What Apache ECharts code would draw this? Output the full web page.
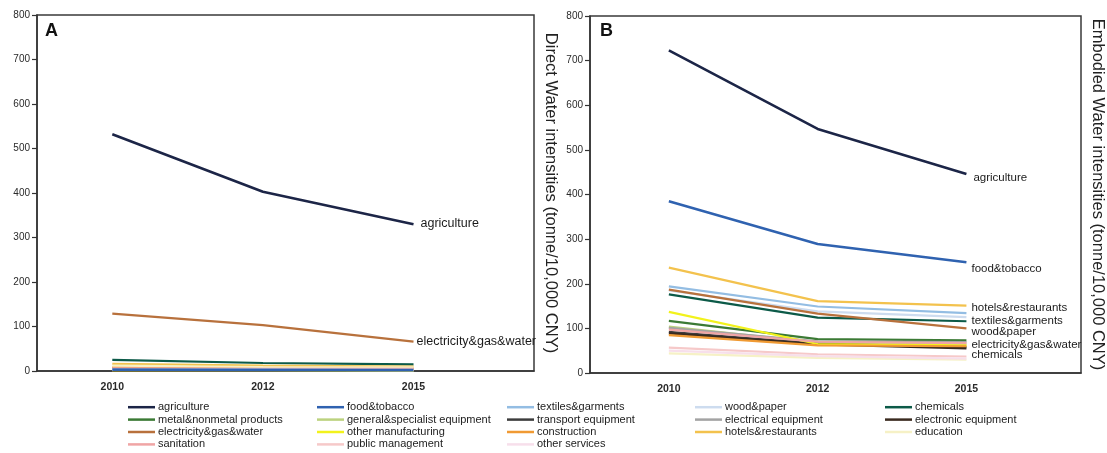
<!DOCTYPE html>
<html>
<head>
<meta charset="utf-8">
<script src="https://cdn.jsdelivr.net/npm/echarts@6/dist/echarts.min.js"></script>
<style>
  html, body { margin: 0; padding: 0; background: #ffffff; }
  #chart { width: 1107px; height: 453px; }
</style>
</head>
<body>
<div id="chart"></div>
<script>
// Survey years on the x axis
const years = ['2010', '2012', '2015'];

// Sectors, in legend order (row by row)
const sectors = [
  'agriculture', 'food&tobacco', 'textiles&garments', 'wood&paper', 'chemicals',
  'metal&nonmetal products', 'general&specialist equipment', 'transport equipment', 'electrical equipment', 'electronic equipment',
  'electricity&gas&water', 'other manufacturing', 'construction', 'hotels&restaurants', 'education',
  'sanitation', 'public management', 'other services'
];

// Panel A: direct water intensities (tonne/10,000 CNY), one row per sector
const directWater = [
  [532, 403, 330],  // agriculture
  [3, 2.5, 2],      // food&tobacco
  [2, 2, 1.5],      // textiles&garments
  [3, 2, 2],        // wood&paper
  [25, 18, 15],     // chemicals
  [6, 5, 4],        // metal&nonmetal products
  [1, 1, 1],        // general&specialist equipment
  [1, 1, 1],        // transport equipment
  [1, 1, 1],        // electrical equipment
  [1, 1, 1],        // electronic equipment
  [129, 103, 66],   // electricity&gas&water
  [2, 2, 1],        // other manufacturing
  [9, 7, 6],        // construction
  [16, 12, 10],     // hotels&restaurants
  [12, 9, 8],       // education
  [6, 5, 5],        // sanitation
  [4, 3, 3],        // public management
  [3, 3, 2]         // other services
];

// Panel B: embodied water intensities (tonne/10,000 CNY), one row per sector
const embodiedWater = [
  [723, 547, 446],  // agriculture
  [385, 289, 248],  // food&tobacco
  [194, 149, 134],  // textiles&garments
  [185, 138, 125],  // wood&paper
  [176, 124, 116],  // chemicals
  [117, 76, 73],    // metal&nonmetal products
  [104, 68, 64],    // general&specialist equipment
  [92, 66, 58],     // transport equipment
  [101, 71, 69],    // electrical equipment
  [89, 64, 55],     // electronic equipment
  [187, 133, 100],  // electricity&gas&water
  [137, 65, 62],    // other manufacturing
  [85, 62, 60],     // construction
  [236, 161, 151],  // hotels&restaurants
  [44, 34, 30],     // education
  [97, 70, 67],     // sanitation
  [57, 42, 37],     // public management
  [50, 38, 32]      // other services
];

// Y axis tick values
const yTicks = [0, 100, 200, 300, 400, 500, 600, 700, 800];

// Line colours per sector
const colors = [
  '#1c2547', '#2f62b0', '#93bde3', '#cddcef', '#0c5a48',
  '#3b7a35', '#bcd27f', '#3d3d3d', '#a3a3a3', '#3a2a1f',
  '#b8713c', '#f2f21c', '#f09a33', '#f3c24d', '#f6f1c6',
  '#f0a5a5', '#f6c9c9', '#f7dfeb'
];

// End-of-line labels: sector index -> [distance, dy]
const labelsA = { 0: [7, -1], 10: [3, 0] };
const labelsB = { 0: [7, 4], 1: [5, 6], 13: [5, 2], 2: [5, 8], 3: [5, 15], 10: [5, 16], 4: [5, 34] };

const FONT = 'Liberation Sans, Arial, sans-serif';

function buildSeries(values, panel, labels, labelSize) {
  return values.map((row, i) => {
    const lab = labels[i];
    return {
      type: 'line',
      name: sectors[i],
      xAxisIndex: panel,
      yAxisIndex: panel,
      data: row.map((v, j) => [j, v]),
      showSymbol: false,
      symbol: 'none',
      silent: true,
      z: (i === 0 || i === 1) ? 5 : 3,
      color: colors[i],
      lineStyle: { color: colors[i], width: (i === 0 || i === 1) ? 2.6 : 2.2 },
      endLabel: lab ? {
        show: true,
        formatter: sectors[i],
        distance: lab[0],
        offset: [0, lab[1]],
        fontFamily: FONT,
        fontSize: labelSize,
        color: '#1a1a1a'
      } : { show: false },
      emphasis: { disabled: true }
    };
  });
}

// Year positions are 0, 1, 2; the extra room on the right holds the line labels
function xAxis(grid, min, max) {
  const idx = years.map((y, j) => j);
  return {
    type: 'value', gridIndex: grid, min: min, max: max,
    axisLine: { show: true, onZero: false, lineStyle: { color: '#333', width: 1.5 } },
    axisTick: { show: false },
    splitLine: { show: false },
    axisLabel: {
      customValues: idx,
      margin: 11, fontFamily: FONT, fontWeight: 'bold', fontSize: 10.5, color: '#2a2a2a',
      formatter: v => years[Math.round(v)] || ''
    }
  };
}

function yAxisLeft(grid) {
  return {
    type: 'value', gridIndex: grid, min: yTicks[0], max: yTicks[yTicks.length - 1],
    interval: yTicks[1] - yTicks[0],
    axisLine: { show: true, onZero: false, lineStyle: { color: '#333', width: 1.5 } },
    axisTick: { show: true, inside: false, length: 5, lineStyle: { color: '#333', width: 1.2 } },
    splitLine: { show: false },
    axisLabel: { margin: 7, fontFamily: FONT, fontSize: 10, color: '#2a2a2a' }
  };
}

function yAxisRight(grid, title) {
  return {
    type: 'value', gridIndex: grid, position: 'right', min: 0, max: 800,
    name: title, nameLocation: 'middle', nameRotate: -90, nameGap: 8,
    nameTextStyle: { fontFamily: FONT, fontSize: 16.5, color: '#222' },
    axisLine: { show: false, onZero: false }, axisTick: { show: false },
    axisLabel: { show: false }, splitLine: { show: false }
  };
}

// Legend split into five aligned columns
const legendCols = [[0, 5, 10, 15], [1, 6, 11, 16], [2, 7, 12, 17], [3, 8, 13], [4, 9, 14]];
const legendLeft = [128, 317, 507, 695, 885];
const legends = legendCols.map((col, c) => ({
  orient: 'vertical',
  left: legendLeft[c], top: 401,
  padding: 0, itemGap: 0,
  icon: 'rect', itemWidth: 27, itemHeight: 2.5,
  selectedMode: false,
  textStyle: { fontFamily: FONT, fontSize: 11, lineHeight: 12.4, color: '#222', padding: [0, 0, 0, -2] },
  data: col.map(i => sectors[i])
}));

const chart = echarts.init(document.getElementById('chart'), null, { renderer: 'canvas' });
chart.setOption({
  animation: false,
  backgroundColor: '#ffffff',
  grid: [
    { left: 37, top: 15, width: 497, height: 356, show: true, borderColor: '#3a3a3a', borderWidth: 1.5, backgroundColor: 'transparent' },
    { left: 590, top: 16, width: 495, height: 357, show: true, borderColor: '#3a3a3a', borderWidth: 1.5, backgroundColor: 'transparent' }
  ],
  xAxis: [xAxis(0, -0.5, 2.8), xAxis(1, -0.53, 2.77)],
  yAxis: [
    yAxisLeft(0), yAxisLeft(1),
    yAxisRight(0, 'Direct Water intensities (tonne/10,000 CNY)'),
    yAxisRight(1, 'Embodied Water intensities (tonne/10,000 CNY)')
  ],
  legend: legends,
  graphic: [
    { type: 'text', left: 45, top: 22, style: { text: 'A', font: 'bold 18px ' + FONT, fill: '#111' } },
    { type: 'text', left: 600, top: 22, style: { text: 'B', font: 'bold 18px ' + FONT, fill: '#111' } }
  ],
  series: [
    ...buildSeries(directWater, 0, labelsA, 12.5),
    ...buildSeries(embodiedWater, 1, labelsB, 11.5)
  ]
});
</script>
</body>
</html>
